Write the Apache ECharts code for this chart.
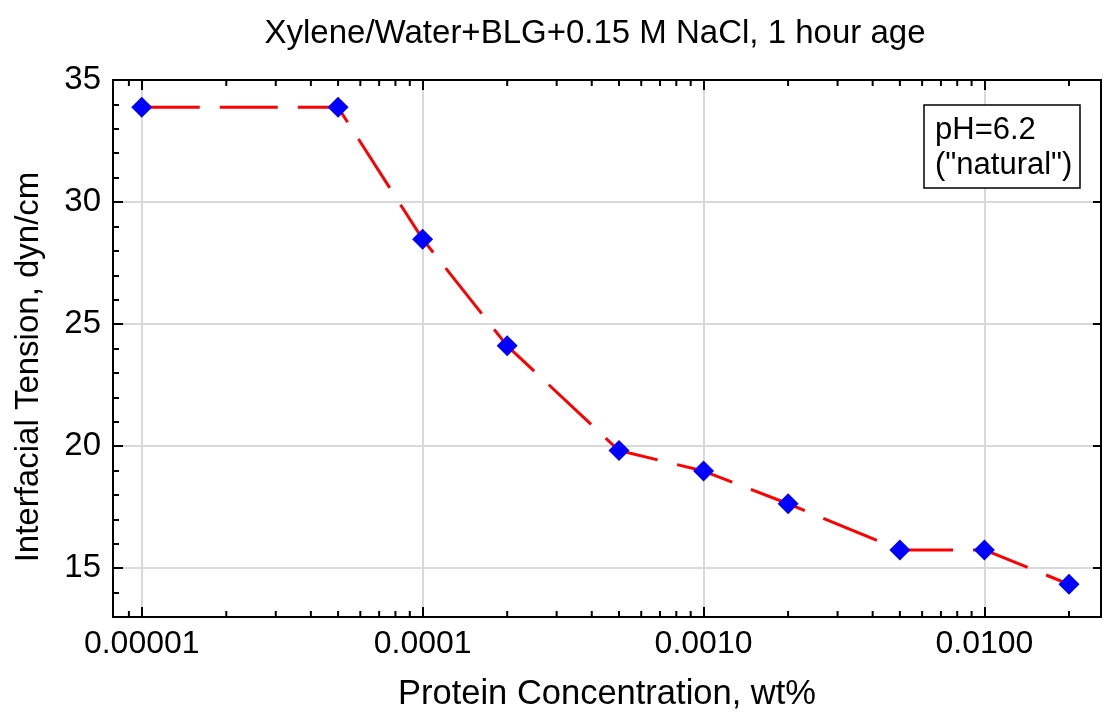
<!DOCTYPE html>
<html>
<head>
<meta charset="utf-8">
<script src="https://cdn.jsdelivr.net/npm/echarts@6/dist/echarts.min.js"></script>
<style>
html, body { margin: 0; padding: 0; background: #fff; }
#chart { width: 1103px; height: 715px; }
</style>
</head>
<body>
<div id="chart"></div>
<script>
// data
var concentration = [0.00001, 0.00005, 0.0001, 0.0002, 0.0005, 0.001, 0.002, 0.005, 0.01, 0.02];
var tension = [33.88, 33.88, 28.48, 24.11, 19.82, 18.98, 17.64, 15.75, 15.75, 14.34];

var xTickValues = [0.00001, 0.0001, 0.001, 0.01];
var xTickLabels = ['0.00001', '0.0001', '0.0010', '0.0100'];
var xMinorTicks = [0.000009,
    0.00002, 0.00003, 0.00004, 0.00005, 0.00006, 0.00007, 0.00008, 0.00009,
    0.0002, 0.0003, 0.0004, 0.0005, 0.0006, 0.0007, 0.0008, 0.0009,
    0.002, 0.003, 0.004, 0.005, 0.006, 0.007, 0.008, 0.009,
    0.02];

var xMin = 0.0000079, xMax = 0.026;
var yMin = 13, yMax = 35;

var FONT = "'Liberation Sans', Arial, sans-serif";

var chart = echarts.init(document.getElementById('chart'));

var points = concentration.map(function (c, i) { return [c, tension[i]]; });

var option = {
    backgroundColor: '#fff',
    animation: false,
    grid: { left: 113, right: 2, top: 80, bottom: 98, containLabel: false, outerBoundsMode: 'none' },
    xAxis: [
        {
            type: 'log',
            logBase: 10,
            min: xMin,
            max: xMax,
            position: 'bottom',
            axisLine: { onZero: false, lineStyle: { color: '#000', width: 2 } },
            axisTick: { inside: true, length: 10, lineStyle: { color: '#000', width: 2 } },
            axisLabel: {
                showMinLabel: false,
                showMaxLabel: false,
                margin: 11,
                color: '#000',
                fontSize: 32,
                fontFamily: FONT,
                formatter: function (v) {
                    for (var i = 0; i < xTickValues.length; i++) {
                        if (Math.abs(Math.log10(v) - Math.log10(xTickValues[i])) < 1e-6) return xTickLabels[i];
                    }
                    return '';
                }
            },
            splitLine: { show: true, lineStyle: { color: '#d9d9d9', width: 2 } },
            name: 'Protein Concentration, wt%',
            nameLocation: 'middle',
            nameGap: 60,
            nameTextStyle: { color: '#000', fontSize: 34.5, fontFamily: FONT }
        },
        {
            // top mirror axis
            type: 'log',
            logBase: 10,
            min: xMin,
            max: xMax,
            position: 'top',
            axisLine: { onZero: false, lineStyle: { color: '#000', width: 2 } },
            axisTick: { inside: true, length: 10, lineStyle: { color: '#000', width: 2 } },
            axisLabel: { show: false },
            splitLine: { show: false }
        }
    ],
    yAxis: [
        {
            type: 'value',
            min: yMin,
            max: yMax,
            position: 'left',
            axisLine: { show: true, onZero: false, lineStyle: { color: '#000', width: 2 } },
            axisTick: { show: true, inside: true, length: 10, lineStyle: { color: '#000', width: 2 } },
            axisLabel: {
                showMinLabel: false,
                margin: 12,
                color: '#000',
                fontSize: 33,
                fontFamily: FONT
            },
            splitLine: { show: true, lineStyle: { color: '#d9d9d9', width: 2 } }
        },
        {
            // right mirror axis
            type: 'value',
            min: yMin,
            max: yMax,
            position: 'right',
            axisLine: { show: true, onZero: false, lineStyle: { color: '#000', width: 2 } },
            axisTick: { show: true, inside: true, length: 8, lineStyle: { color: '#000', width: 2 } },
            axisLabel: { show: false },
            splitLine: { show: false }
        },
        {
            // minor ticks on the left, one per unit
            type: 'value',
            min: yMin,
            max: yMax,
            interval: 1,
            position: 'left',
            offset: 0,
            axisLine: { show: false, onZero: false },
            axisTick: { show: true, inside: true, length: 6, lineStyle: { color: '#000', width: 2 } },
            axisLabel: { show: false },
            splitLine: { show: false }
        }
    ],
    graphic: [
        {
            type: 'text',
            x: 595,
            y: 34,
            style: {
                text: 'Xylene/Water+BLG+0.15 M NaCl, 1 hour age',
                font: '33px ' + FONT,
                fill: '#000',
                textAlign: 'center',
                textVerticalAlign: 'middle'
            }
        },
        {
            type: 'text',
            x: 29,
            y: 367,
            rotation: Math.PI / 2,
            style: {
                text: 'Interfacial Tension, dyn/cm',
                font: '33px ' + FONT,
                fill: '#000',
                textAlign: 'center',
                textVerticalAlign: 'middle'
            }
        },
        {
            type: 'rect',
            z: 100,
            shape: { x: 924, y: 105, width: 156, height: 83 },
            style: { fill: '#fff', stroke: '#000', lineWidth: 1.5 }
        },
        {
            type: 'text',
            z: 101,
            x: 935,
            y: 130,
            style: { text: 'pH=6.2', font: '31px ' + FONT, fill: '#000', textVerticalAlign: 'middle' }
        },
        {
            type: 'text',
            z: 101,
            x: 935,
            y: 165,
            style: { text: '("natural")', font: '31px ' + FONT, fill: '#000', textVerticalAlign: 'middle' }
        }
    ],
    series: [
        {
            type: 'custom',
            xAxisIndex: 0,
            yAxisIndex: 0,
            silent: true,
            clip: false,
            data: xMinorTicks.map(function (v) { return [v, yMin]; }),
            renderItem: function (params, api) {
                var v = api.value(0);
                var b = api.coord([v, yMin]);
                var t = api.coord([v, yMax]);
                var st = { stroke: '#000', lineWidth: 2 };
                return {
                    type: 'group',
                    children: [
                        { type: 'line', shape: { x1: b[0], y1: b[1], x2: b[0], y2: b[1] - 6 }, style: st },
                        { type: 'line', shape: { x1: t[0], y1: t[1], x2: t[0], y2: t[1] + 6 }, style: st }
                    ]
                };
            }
        },
        {
            name: 'pH=6.2',
            type: 'line',
            xAxisIndex: 0,
            yAxisIndex: 0,
            data: points,
            symbol: 'diamond',
            symbolSize: 21,
            itemStyle: { color: '#0000ff' },
            lineStyle: { color: '#ff0000', width: 3, type: [58, 20] },
            z: 10
        }
    ]
};

chart.setOption(option);
</script>
</body>
</html>
